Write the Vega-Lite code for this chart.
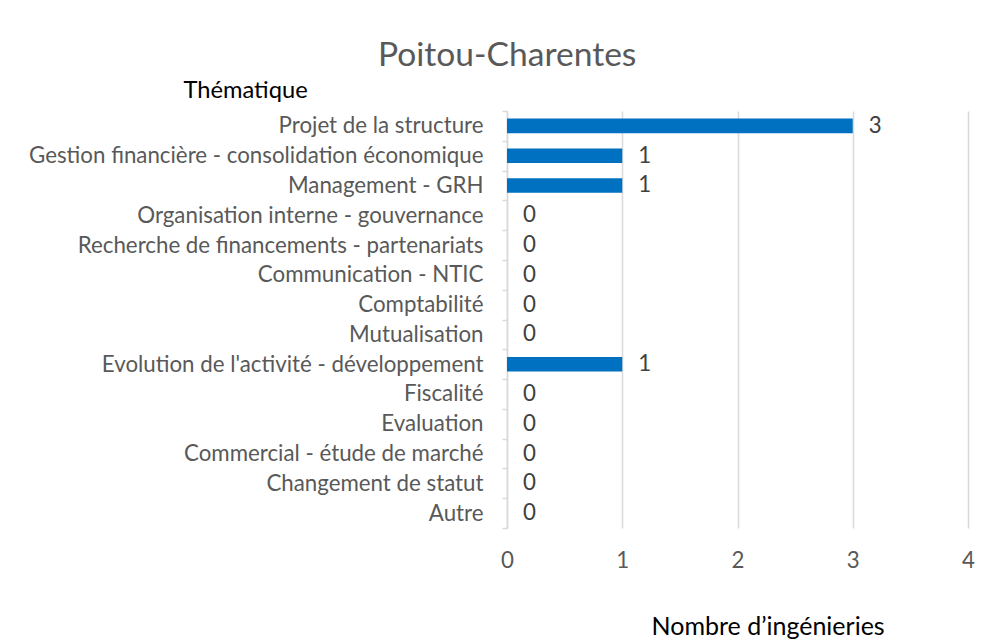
{
  "$schema": "https://vega.github.io/schema/vega-lite/v6.json",
  "width": 461,
  "height": 417,
  "autosize": {"type": "none"},
  "padding": {"left": 507, "top": 111, "right": 25, "bottom": 112},
  "background": "white",
  "config": {
    "view": {"stroke": null},
    "font": "Lato"
  },
  "title": {
    "text": "Poitou-Charentes",
    "anchor": "start",
    "frame": "group",
    "dx": -129,
    "dy": 68,
    "offset": 46,
    "baseline": "alphabetic",
    "fontSize": 33.6,
    "fontWeight": "normal",
    "color": "#595959",
    "font": "Lato"
  },
  "data": {
    "values": [
      {"thematique": "Projet de la structure", "n": 3},
      {"thematique": "Gestion financière - consolidation économique", "n": 1},
      {"thematique": "Management - GRH", "n": 1},
      {"thematique": "Organisation interne - gouvernance", "n": 0},
      {"thematique": "Recherche de financements - partenariats", "n": 0},
      {"thematique": "Communication - NTIC", "n": 0},
      {"thematique": "Comptabilité", "n": 0},
      {"thematique": "Mutualisation", "n": 0},
      {"thematique": "Evolution de l'activité - développement", "n": 1},
      {"thematique": "Fiscalité", "n": 0},
      {"thematique": "Evaluation", "n": 0},
      {"thematique": "Commercial - étude de marché", "n": 0},
      {"thematique": "Changement de statut", "n": 0},
      {"thematique": "Autre", "n": 0}
    ]
  },
  "encoding": {
    "y": {
      "field": "thematique",
      "type": "nominal",
      "sort": null,
      "scale": {"paddingInner": 0, "paddingOuter": 0},
      "axis": {
        "title": "Thématique",
        "titleAngle": 0,
        "titleAlign": "left",
        "titleBaseline": "middle",
        "titleX": -324,
        "titleY": -21,
        "titleFontSize": 23.7,
        "titleFontWeight": "normal",
        "titleColor": "#000000",
        "titleFont": "Lato",
        "labelFont": "Lato",
        "labelFontSize": 22.3,
        "labelColor": "#595959",
        "labelPadding": 19,
        "labelLimit": 600,
        "domainColor": "#d9d9d9",
        "domainWidth": 1.5,
        "tickColor": "#d9d9d9",
        "tickSize": 5,
        "tickWidth": 1.5,
        "tickBand": "extent",
        "grid": false
      }
    },
    "x": {
      "field": "n",
      "type": "quantitative",
      "scale": {"domain": [0, 4], "nice": false},
      "axis": {
        "values": [0, 1, 2, 3, 4],
        "title": "Nombre d’ingénieries",
        "titleAlign": "left",
        "titleBaseline": "middle",
        "titleX": 144,
        "titleY": 98,
        "titleFontSize": 25,
        "titleFontWeight": "normal",
        "titleColor": "#000000",
        "titleFont": "Lato",
        "labelFont": "Lato",
        "labelFontSize": 22.3,
        "labelColor": "#595959",
        "labelPadding": 21,
        "labelFlush": false,
        "ticks": false,
        "domain": false,
        "grid": true,
        "gridColor": "#d9d9d9",
        "gridWidth": 1.5
      }
    }
  },
  "layer": [
    {
      "mark": {"type": "bar", "color": "#0070c0", "height": {"band": 0.49}}
    },
    {
      "mark": {
        "type": "text",
        "align": "left",
        "baseline": "middle",
        "dx": 16,
        "fontSize": 22.3,
        "font": "Lato",
        "color": "#404040"
      },
      "encoding": {"text": {"field": "n", "type": "quantitative"}}
    }
  ]
}
